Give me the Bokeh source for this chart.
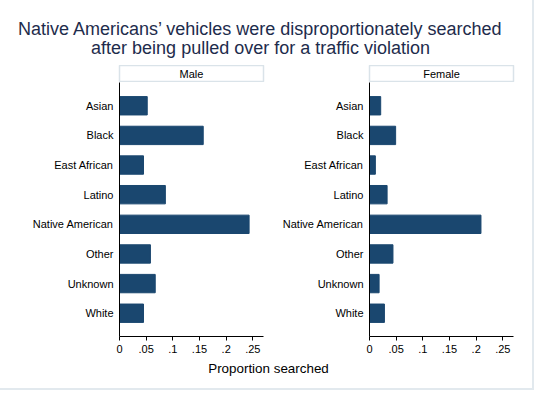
from bokeh.plotting import figure
from bokeh.models import Range1d, FactorRange, ColumnDataSource, FixedTicker
from bokeh.layouts import column, row
from bokeh.embed import file_html
from bokeh.resources import INLINE
from bokeh.core.properties import value

# ---- data ----
categories = ["Asian", "Black", "East African", "Latino", "Native American", "Other", "Unknown", "White"]
male = [0.052, 0.157, 0.045, 0.086, 0.243, 0.058, 0.067, 0.045]
female = [0.021, 0.049, 0.011, 0.033, 0.209, 0.044, 0.018, 0.028]
panels = ["Male", "Female"]
tick_values = [0, 0.05, 0.1, 0.15, 0.2, 0.25]
tick_labels = ["0", ".05", ".1", ".15", ".2", ".25"]
title_lines = ["Native Americans\u2019 vehicles were disproportionately searched",
               "after being pulled over for a traffic violation"]
x_title = "Proportion searched"

FONT = "Liberation Sans"
BAR = "#1a476f"
TITLE_COLOR = "#1e2c4c"
STRIP_LINE = "#dae3e9"
X_MAX = 0.27

def blank(width, height, **kw):
    p = figure(width=width, height=height, output_backend="svg", toolbar_location=None,
               x_axis_type=None, y_axis_type=None, min_border=0, **kw)
    p.outline_line_color = None
    p.background_fill_color = "white"
    p.border_fill_color = "white"
    p.xgrid.visible = False
    p.ygrid.visible = False
    return p

# title
tp = blank(532, 65, x_range=Range1d(0, 532), y_range=Range1d(0, 65))
tp.text(x=[260, 260], y=[36.5, 17.5], text=title_lines, text_align="center", text_baseline="middle",
        text_font=value(FONT), text_font_size="18px", text_color=TITLE_COLOR)

def panel(name, vals, width, left, right):
    # strip
    sp = blank(width, 17, x_range=Range1d(0, 1), y_range=Range1d(0, 1))
    sp.min_border_left = left
    sp.min_border_right = right
    sp.min_border_bottom = 1
    sp.outline_line_color = STRIP_LINE
    sp.outline_line_width = 1.5
    sp.text(x=[0.5], y=[0.5], text=[name], text_align="center", text_baseline="middle",
            text_font=value(FONT), text_font_size="11px", text_color="black")

    src = ColumnDataSource(dict(cat=categories, val=vals))
    p = figure(width=width, height=278, output_backend="svg", toolbar_location=None,
               x_range=Range1d(0, X_MAX),
               y_range=FactorRange(factors=categories[::-1], range_padding=0.0713,
                                   range_padding_units="percent"),
               min_border_left=left, min_border_right=right, min_border_top=0,
               min_border_bottom=24)
    p.outline_line_color = None
    p.xgrid.visible = False
    p.ygrid.visible = False
    p.hbar(y="cat", left=0, right="val", height=0.62, source=src,
           fill_color=BAR, line_color=BAR)
    xa = p.xaxis[0]
    xa.ticker = FixedTicker(ticks=tick_values)
    xa.major_label_overrides = {v: l for v, l in zip(tick_values, tick_labels)}
    xa.minor_tick_line_color = None
    xa.major_tick_out = 4
    xa.major_tick_in = 0
    xa.major_label_standoff = 4
    xa.axis_line_color = "black"
    xa.major_tick_line_color = "black"
    xa.major_label_text_font = FONT
    xa.major_label_text_font_size = "11px"
    xa.major_label_text_color = "black"
    ya = p.yaxis[0]
    ya.major_tick_line_color = None
    ya.minor_tick_line_color = None
    ya.major_tick_out = 0
    ya.major_tick_in = 0
    ya.major_label_standoff = 6
    ya.axis_line_color = "black"
    ya.major_label_text_font = FONT
    ya.major_label_text_font_size = "11px"
    ya.major_label_text_color = "black"
    return column(sp, p, spacing=0)

left_panel = panel(panels[0], male, 270, 119, 7)
right_panel = panel(panels[1], female, 262, 99, 19)

bp = blank(532, 28, x_range=Range1d(0, 532), y_range=Range1d(0, 28))
bp.text(x=[268], y=[20.3], text=[x_title], text_align="center", text_baseline="middle",
        text_font=value(FONT), text_font_size="13.4px", text_color="black")

layout = column(tp, row(left_panel, right_panel, spacing=0), bp, spacing=0,
                styles={"box-shadow": "1px 1px 0 1px #e2e9ee"})

open("out.html", "w").write(file_html(layout, INLINE))
